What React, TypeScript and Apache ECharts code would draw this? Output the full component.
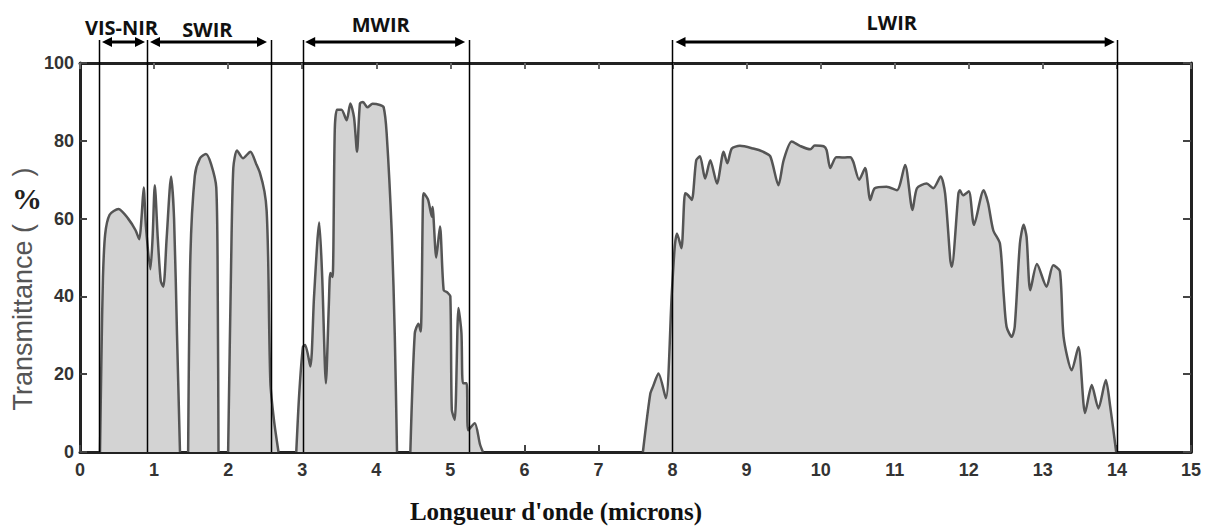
import React, { useEffect, useRef } from "react";
import * as echarts from "echarts";

// Wavelength (microns) and transmittance (%) — null breaks the curve between bands
const wavelength: number[] = [
  0.27, 0.29, 0.31, 0.34, 0.40, 0.52, 0.65, 0.75, 0.80, 0.83, 0.86, 0.89, 0.95, 0.98, 1.01, 1.05, 1.09, 1.125, 1.17, 1.23, 1.27, 1.31, 1.35,
  1.40,
  1.46, 1.49, 1.55, 1.62, 1.70, 1.77, 1.84, 1.86, 1.87,
  1.93,
  2.00, 2.04, 2.07, 2.12, 2.20, 2.30, 2.38, 2.43, 2.49, 2.52, 2.54, 2.57, 2.62, 2.68,
  2.80,
  2.92, 2.96, 3.01, 3.04, 3.11, 3.16, 3.23, 3.27, 3.32, 3.36, 3.38, 3.41, 3.44, 3.47, 3.53, 3.60, 3.65, 3.70, 3.74, 3.78, 3.82, 3.88, 3.95, 4.05, 4.10, 4.14, 4.21, 4.25, 4.28,
  4.37,
  4.46, 4.52, 4.57, 4.60, 4.63, 4.64, 4.70, 4.75, 4.76, 4.81, 4.86, 4.91, 4.96, 5.00, 5.02, 5.06, 5.11, 5.15, 5.17, 5.22, 5.24, 5.33, 5.40, 5.44,
  6.50,
  7.60, 7.70, 7.74, 7.81, 7.91, 7.99, 8.03, 8.06, 8.12, 8.17, 8.21, 8.26, 8.32, 8.37, 8.44, 8.51, 8.60, 8.69, 8.74, 8.80, 8.91, 9.09, 9.22, 9.32, 9.43, 9.50, 9.61, 9.72, 9.86, 9.92, 10.04, 10.08, 10.13, 10.21, 10.31, 10.40, 10.44, 10.52, 10.60, 10.67, 10.73, 10.89, 11.03, 11.14, 11.24, 11.30, 11.43, 11.52, 11.62, 11.68, 11.75, 11.77, 11.86, 11.88, 11.92, 12.00, 12.07, 12.20, 12.26, 12.33, 12.42, 12.47, 12.51, 12.58, 12.62, 12.69, 12.74, 12.78, 12.83, 12.92, 13.05, 13.14, 13.23, 13.28, 13.39, 13.48, 13.57, 13.66, 13.75, 13.85, 13.91, 13.99,
];
const transmittance: (number | null)[] = [
  0, 25, 45, 56, 61, 62.5, 60, 57, 54.7, 60, 68, 58, 47, 55, 68.6, 55, 44, 42.5, 55, 70.8, 60, 30, 0,
  null,
  0, 50, 71, 75.5, 76.6, 74, 68, 40, 0,
  null,
  0, 48, 73, 77.5, 75.5, 77.2, 74, 71.7, 67, 62, 50, 18, 8, 0,
  null,
  0, 15, 27, 27.5, 22, 40, 59, 45, 17.7, 38, 46, 45, 83, 88, 88, 85.3, 89.6, 86, 77.2, 89.6, 90, 88.6, 89.5, 89.2, 88.6, 82, 56, 30, 0,
  null,
  0, 30.5, 33, 31, 64.8, 66.5, 64.8, 60.5, 63, 50, 58, 41.6, 41, 40, 10.8, 8.3, 37, 30.6, 17.7, 17.7, 5.6, 7.4, 2, 0,
  null,
  0, 15, 17, 20.2, 13.8, 40.8, 52.8, 56.2, 52.4, 66.5, 66, 64.8, 75, 76, 70.3, 75, 69, 77.2, 74.2, 78, 78.7, 78, 77.2, 76, 68.6, 75, 79.8, 78.7, 77.8, 78.8, 78.6, 77.6, 73, 75.8, 75.7, 75.8, 74.6, 70, 73, 64.8, 67.8, 68.2, 67.3, 73.8, 62.2, 67.8, 69, 67.8, 70.8, 66.5, 49.4, 47.6, 66.5, 67.3, 66, 67, 58.4, 67.3, 64, 57, 53.6, 40.8, 32.2, 29.6, 32.2, 53.6, 58.4, 55.3, 41.6, 48.3, 42.5, 48, 46.5, 29.6, 21, 27, 10, 17.2, 11.2, 18.5, 11.6, 0,
];

const xTicks = { min: 0, max: 15, interval: 1 };
const yTicks = { min: 0, max: 100, interval: 20 };

// Spectral band boundaries (microns) and band labels with arrow spans
const boundaries: number[] = [0.257, 0.909, 2.575, 3.007, 5.256, 7.99, 14.0];
const bandNames: string[] = ["VIS-NIR", "SWIR", "MWIR", "LWIR"];
const bandArrowFrom: number[] = [0.297, 0.945, 3.04, 8.04];
const bandArrowTo: number[] = [0.878, 2.525, 5.2, 13.97];
const bandLabelAt: number[] = [0.56, 1.72, 4.06, 10.96];
const bandLabelY: number[] = [27, 29, 24, 22];

export default function App() {
  const ref = useRef<HTMLDivElement>(null);
  useEffect(() => {
    if (!ref.current) return;
    const chart = echarts.init(ref.current, null, { renderer: "svg" });
    const data = wavelength.map((w, i) => [w, transmittance[i] === null ? "-" : transmittance[i]]);
    const axisLine = { show: true, onZero: false, lineStyle: { color: "#222", width: 3 } };
    const labelStyle = { color: "#333", fontWeight: "bold" as const, fontSize: 18, fontFamily: "Liberation Sans, Arial, sans-serif" };
    chart.setOption({
      animation: false,
      grid: { left: 80, right: 20, top: 63, bottom: 77, containLabel: false },
      xAxis: [
        {
          type: "value", ...xTicks, position: "bottom",
          axisLine, splitLine: { show: false },
          axisTick: { show: true, inside: true, length: 7, lineStyle: { color: "#444", width: 2 } },
          axisLabel: { ...labelStyle, margin: 9 },
        },
        {
          type: "value", ...xTicks, position: "top",
          axisLine, splitLine: { show: false },
          axisTick: { show: true, inside: true, length: 6, lineStyle: { color: "#666", width: 2 } },
          axisLabel: { show: false },
        },
      ],
      yAxis: [
        {
          type: "value", ...yTicks, position: "left",
          axisLine, splitLine: { show: false },
          axisTick: { show: true, inside: true, length: 7, lineStyle: { color: "#444", width: 2 } },
          axisLabel: { ...labelStyle, margin: 6 },
        },
        {
          type: "value", ...yTicks, position: "right",
          axisLine, splitLine: { show: false },
          axisTick: { show: true, inside: true, length: 8, lineStyle: { color: "#444", width: 2 } },
          axisLabel: { show: false },
        },
      ],
      series: [
        {
          type: "line",
          xAxisIndex: 0,
          yAxisIndex: 0,
          data,
          smooth: 0.25,
          connectNulls: false,
          showSymbol: false,
          symbol: "none",
          lineStyle: { color: "#555", width: 2.5 },
          areaStyle: { color: "#d3d3d3", opacity: 1 },
          z: 1,
        },
      ],
    });

    const px = (v: number) => chart.convertToPixel({ xAxisIndex: 0 }, v) as number;
    const py = (v: number) => chart.convertToPixel({ yAxisIndex: 0 }, v) as number;
    const y0 = py(0);
    const lineTop = 40;
    const arrowY = 42;
    const graphics: any[] = [];
    boundaries.forEach((b) => {
      const x = Math.round(px(b)) + 0.5;
      graphics.push({
        type: "line", silent: true, z: 50,
        shape: { x1: x, y1: lineTop, x2: x, y2: y0 },
        style: { stroke: "#000", lineWidth: 1.5 },
      });
    });
    const head = 10, half = 5;
    bandNames.forEach((name, i) => {
      const a = px(bandArrowFrom[i]);
      const b = px(bandArrowTo[i]);
      graphics.push({
        type: "line", silent: true, z: 50,
        shape: { x1: a + head - 2, y1: arrowY, x2: b - head + 2, y2: arrowY },
        style: { stroke: "#000", lineWidth: 3 },
      });
      graphics.push({
        type: "polygon", silent: true, z: 50,
        shape: { points: [[a, arrowY], [a + head, arrowY - half], [a + head, arrowY + half]] },
        style: { fill: "#000" },
      });
      graphics.push({
        type: "polygon", silent: true, z: 50,
        shape: { points: [[b, arrowY], [b - head, arrowY - half], [b - head, arrowY + half]] },
        style: { fill: "#000" },
      });
      graphics.push({
        type: "text", silent: true, z: 50,
        x: px(bandLabelAt[i]), y: bandLabelY[i],
        style: {
          text: name, fill: "#111", font: "bold 20px 'Open Sans', sans-serif",
          align: "center", verticalAlign: "middle",
        },
      });
    });
    // Y axis title
    graphics.push({
      type: "text", silent: true, z: 50,
      x: 23, y: 224, rotation: Math.PI / 2,
      style: { text: "Transmittance (", fill: "#555", font: "27px 'Liberation Sans', Arial, sans-serif", align: "right", verticalAlign: "middle" },
    });
    graphics.push({
      type: "text", silent: true, z: 50,
      x: 23, y: 172, rotation: Math.PI / 2,
      style: { text: ")", fill: "#555", font: "27px 'Liberation Sans', Arial, sans-serif", align: "center", verticalAlign: "middle" },
    });
    graphics.push({
      type: "text", silent: true, z: 50,
      x: 27, y: 198,
      style: { text: "%", fill: "#222", font: "bold 30px 'Liberation Serif', 'Times New Roman', serif", align: "center", verticalAlign: "middle" },
    });
    // X axis title
    graphics.push({
      type: "text", silent: true, z: 50,
      x: 556, y: 511,
      style: { text: "Longueur d'onde (microns)", fill: "#111", font: "bold 25px 'Liberation Serif', 'Times New Roman', serif", align: "center", verticalAlign: "middle" },
    });
    chart.setOption({ graphic: graphics });
    return () => chart.dispose();
  }, []);
  return <div ref={ref} style={{ position: "fixed", left: 0, top: 0, width: 1211, height: 529, background: "#fff" }} />;
}
